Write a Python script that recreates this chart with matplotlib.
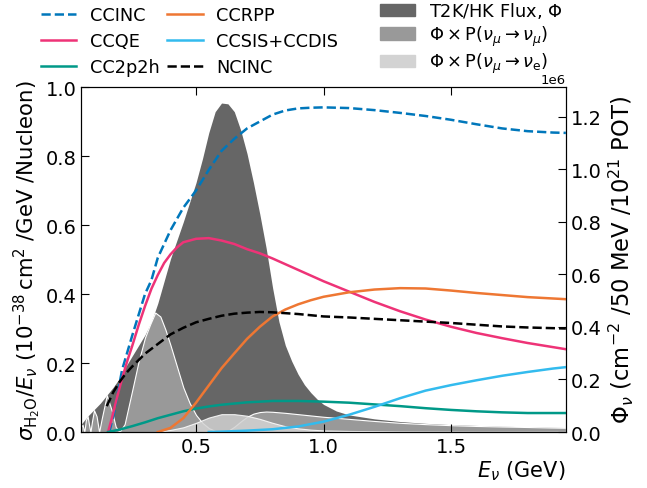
import matplotlib
matplotlib.use("Agg")
import matplotlib.pyplot as plt
from matplotlib.patches import Patch

# ---------------- data ----------------
# Flux (units of 1e6)
flux_E = [0.05, 0.075, 0.10, 0.125, 0.15, 0.175, 0.20, 0.225, 0.25, 0.275, 0.30, 0.325,
          0.35, 0.375, 0.40, 0.425, 0.45, 0.475, 0.50, 0.525, 0.55, 0.575, 0.60, 0.625,
          0.65, 0.675, 0.70, 0.725, 0.75, 0.775, 0.80, 0.825, 0.85, 0.875, 0.90, 0.925,
          0.95, 0.975, 1.00, 1.05, 1.10, 1.20, 1.30, 1.40, 1.50, 1.60, 1.70, 1.80, 1.90, 1.95]
flux_val = [0.03, 0.06, 0.085, 0.11, 0.14, 0.17, 0.205, 0.25, 0.29, 0.33, 0.37, 0.42,
            0.49, 0.575, 0.66, 0.73, 0.80, 0.875, 0.95, 1.04, 1.14, 1.22, 1.253, 1.25,
            1.22, 1.15, 1.06, 0.95, 0.83, 0.70, 0.55, 0.42, 0.33, 0.27, 0.22, 0.18,
            0.15, 0.125, 0.105, 0.08, 0.065, 0.05, 0.04, 0.033, 0.028, 0.025, 0.022, 0.02, 0.018, 0.017]

# Flux x P(numu -> numu)
pmm_E = [0.05, 0.055, 0.062, 0.068, 0.075, 0.08, 0.086, 0.092, 0.10, 0.11, 0.12, 0.13,
         0.15, 0.17, 0.185, 0.20, 0.22, 0.25, 0.275, 0.30, 0.32, 0.34, 0.36, 0.38, 0.40,
         0.425, 0.45, 0.475, 0.50, 0.525, 0.55, 0.575, 0.60, 0.625, 0.65, 0.675, 0.70,
         0.725, 0.75, 0.775, 0.80, 0.85, 0.90, 0.95, 1.00, 1.10, 1.20, 1.30, 1.40, 1.50,
         1.60, 1.70, 1.80, 1.90, 1.95]
pmm_val = [0.02, 0.028, 0.0, 0.045, 0.06, 0.03, 0.0, 0.04, 0.083, 0.06, 0.0, 0.05,
           0.14, 0.08, 0.02, 0.0, 0.03, 0.16, 0.27, 0.36, 0.41, 0.455, 0.44, 0.39, 0.33,
           0.25, 0.17, 0.11, 0.065, 0.035, 0.015, 0.004, 0.0, 0.004, 0.02, 0.04, 0.058,
           0.07, 0.076, 0.078, 0.077, 0.073, 0.068, 0.063, 0.058, 0.05, 0.042, 0.035, 0.03, 0.026,
           0.023, 0.021, 0.019, 0.017, 0.016]

# Flux x P(numu -> nue)
pme_E = [0.35, 0.40, 0.45, 0.50, 0.55, 0.60, 0.65, 0.70, 0.75, 0.80, 0.85, 0.90, 0.95,
         1.00, 1.10, 1.30, 1.60, 1.95]
pme_val = [0.0, 0.008, 0.018, 0.035, 0.055, 0.068, 0.068, 0.062, 0.05, 0.035, 0.022, 0.014, 0.009,
           0.006, 0.004, 0.002, 0.001, 0.001]

# Cross sections / E (1e-38 cm^2 / GeV / nucleon)
ccinc_E = [0.16, 0.18, 0.20, 0.21, 0.23, 0.25, 0.275, 0.30, 0.325, 0.35, 0.40, 0.45, 0.50,
           0.55, 0.60, 0.65, 0.70, 0.75, 0.80, 0.85, 0.90, 0.95, 1.0, 1.1, 1.2, 1.3, 1.4,
           1.5, 1.6, 1.7, 1.8, 1.9, 1.95]
ccinc_val = [0.0, 0.06, 0.14, 0.18, 0.23, 0.28, 0.34, 0.40, 0.44, 0.505, 0.585, 0.65, 0.70,
             0.76, 0.815, 0.85, 0.88, 0.90, 0.92, 0.932, 0.938, 0.940, 0.941, 0.939, 0.933, 0.925, 0.916,
             0.905, 0.892, 0.880, 0.872, 0.868, 0.867]

ccqe_E = [0.155, 0.17, 0.19, 0.21, 0.23, 0.25, 0.275, 0.30, 0.325, 0.35, 0.375, 0.40, 0.425,
          0.45, 0.50, 0.55, 0.60, 0.65, 0.70, 0.75, 0.80, 0.90, 1.0, 1.1, 1.2, 1.3, 1.4, 1.5,
          1.6, 1.7, 1.8, 1.9, 1.95]
ccqe_val = [0.0, 0.04, 0.10, 0.155, 0.205, 0.25, 0.31, 0.365, 0.415, 0.455, 0.49, 0.515, 0.535,
            0.55, 0.56, 0.562, 0.555, 0.545, 0.53, 0.518, 0.503, 0.47, 0.437, 0.407, 0.377, 0.35,
            0.326, 0.305, 0.287, 0.272, 0.258, 0.246, 0.24]

cc2p2h_E = [0.155, 0.20, 0.25, 0.30, 0.35, 0.40, 0.45, 0.50, 0.55, 0.60, 0.70, 0.80, 0.90,
            1.0, 1.1, 1.2, 1.3, 1.4, 1.5, 1.6, 1.7, 1.8, 1.9, 1.95]
cc2p2h_val = [0.0, 0.007, 0.017, 0.028, 0.04, 0.05, 0.06, 0.068, 0.074, 0.079, 0.086, 0.09, 0.09,
              0.088, 0.085, 0.08, 0.075, 0.069, 0.064, 0.06, 0.057, 0.055, 0.055, 0.055]

ccrpp_E = [0.35, 0.40, 0.45, 0.50, 0.55, 0.60, 0.65, 0.70, 0.75, 0.80, 0.85, 0.90, 0.95,
           1.0, 1.1, 1.2, 1.3, 1.4, 1.5, 1.6, 1.7, 1.8, 1.9, 1.95]
ccrpp_val = [0.0, 0.012, 0.04, 0.085, 0.135, 0.185, 0.228, 0.27, 0.305, 0.335, 0.355, 0.37, 0.382,
             0.392, 0.405, 0.413, 0.417, 0.416, 0.41, 0.403, 0.397, 0.391, 0.387, 0.385]

ccdis_E = [0.55, 0.60, 0.70, 0.80, 0.90, 1.0, 1.1, 1.2, 1.3, 1.4, 1.5, 1.6, 1.7, 1.8, 1.9, 1.95]
ccdis_val = [0.0, 0.001, 0.004, 0.008, 0.016, 0.03, 0.05, 0.073, 0.098, 0.12, 0.136, 0.15,
             0.163, 0.174, 0.184, 0.188]

ncinc_E = [0.15, 0.175, 0.20, 0.225, 0.25, 0.30, 0.35, 0.40, 0.45, 0.50, 0.55, 0.60, 0.65,
           0.70, 0.75, 0.80, 0.90, 1.0, 1.1, 1.2, 1.3, 1.4, 1.5, 1.6, 1.7, 1.8, 1.9, 1.95]
ncinc_val = [0.075, 0.115, 0.145, 0.17, 0.19, 0.227, 0.255, 0.283, 0.302, 0.318, 0.328, 0.337, 0.343,
             0.346, 0.348, 0.347, 0.342, 0.335, 0.332, 0.328, 0.324, 0.32, 0.316, 0.311, 0.306,
             0.303, 0.301, 0.3]

labels_xs = ["CCINC", "CCQE", "CC2p2h", "CCRPP", "CCSIS+CCDIS", "NCINC"]
labels_flux = ["T2K/HK Flux, $\\Phi$",
               "$\\Phi\\times\\mathrm{P}(\\nu_\\mu\\rightarrow\\nu_\\mu)$",
               "$\\Phi\\times\\mathrm{P}(\\nu_\\mu\\rightarrow\\nu_\\mathrm{e})$"]

# ---------------- plot ----------------
fig = plt.figure(figsize=(6.47, 4.89), dpi=100)
ax = fig.add_axes([0.1256, 0.1145, 0.749, 0.7055])
ax2 = ax.twinx()

s = 1e6
ax2.fill_between(flux_E, [v * s for v in flux_val], 0, color="#666666", lw=0)
ax2.fill_between(pmm_E, [v * s for v in pmm_val], 0, facecolor="#999999", edgecolor="white", lw=0.8)
ax2.fill_between(pme_E, [v * s for v in pme_val], 0, facecolor="#d3d3d3", edgecolor="white", lw=0.8, alpha=0.85)
ax2.set_ylim(0, 1.314e6)
ax2.set_yticks([0, 0.2e6, 0.4e6, 0.6e6, 0.8e6, 1.0e6, 1.2e6])

lw = 1.8
ax.plot(ccinc_E, ccinc_val, color="#0077BB", ls="--", lw=lw, label=labels_xs[0])
ax.plot(ccqe_E, ccqe_val, color="#EE3377", lw=lw, label=labels_xs[1])
ax.plot(cc2p2h_E, cc2p2h_val, color="#009988", lw=lw, label=labels_xs[2])
ax.plot(ccrpp_E, ccrpp_val, color="#EE7733", lw=lw, label=labels_xs[3])
ax.plot(ccdis_E, ccdis_val, color="#33BBEE", lw=lw, label=labels_xs[4])
ax.plot(ncinc_E, ncinc_val, color="black", ls="--", lw=lw, label=labels_xs[5])

ax.set_zorder(ax2.get_zorder() + 1)
ax.patch.set_visible(False)

ax.set_xlim(0.05, 1.95)
ax.set_ylim(0, 1.0)
ax.set_xticks([0.5, 1.0, 1.5])
ax.set_yticks([0, 0.2, 0.4, 0.6, 0.8, 1.0])
ax.tick_params(direction="in", top=True, labelsize=14, length=6)
ax2.tick_params(direction="in", labelsize=14, length=6)
ax2.yaxis.get_offset_text().set_fontsize(9.5)

ax.set_xlabel(r"$E_\nu$ (GeV)", fontsize=15, loc="right", labelpad=2)
ax.set_ylabel(r"$\sigma_{\rm H_2O}/E_\nu$ ($10^{-38}\,{\rm cm}^2$ /GeV /Nucleon)", fontsize=15.3, labelpad=2)
ax2.set_ylabel(r"$\Phi_\nu$ (cm$^{-2}$ /50 MeV /10$^{21}$ POT)", fontsize=16.3, labelpad=4)

h, l = ax.get_legend_handles_labels()
fig.legend(h, l, loc="upper left", bbox_to_anchor=(0.052, 1.0), ncol=2, frameon=False,
           fontsize=12.8, handlelength=2.0, handletextpad=0.75, columnspacing=0.45,
           labelspacing=0.45, borderaxespad=0)

ph = [Patch(color="#666666"), Patch(color="#999999"), Patch(color="#d3d3d3")]
fig.legend(ph, labels_flux, loc="upper left", bbox_to_anchor=(0.576, 1.012), frameon=False,
           fontsize=12.8, handlelength=2.0, handletextpad=0.75, labelspacing=0.18, borderaxespad=0)

fig.savefig("out.png", dpi=100)
